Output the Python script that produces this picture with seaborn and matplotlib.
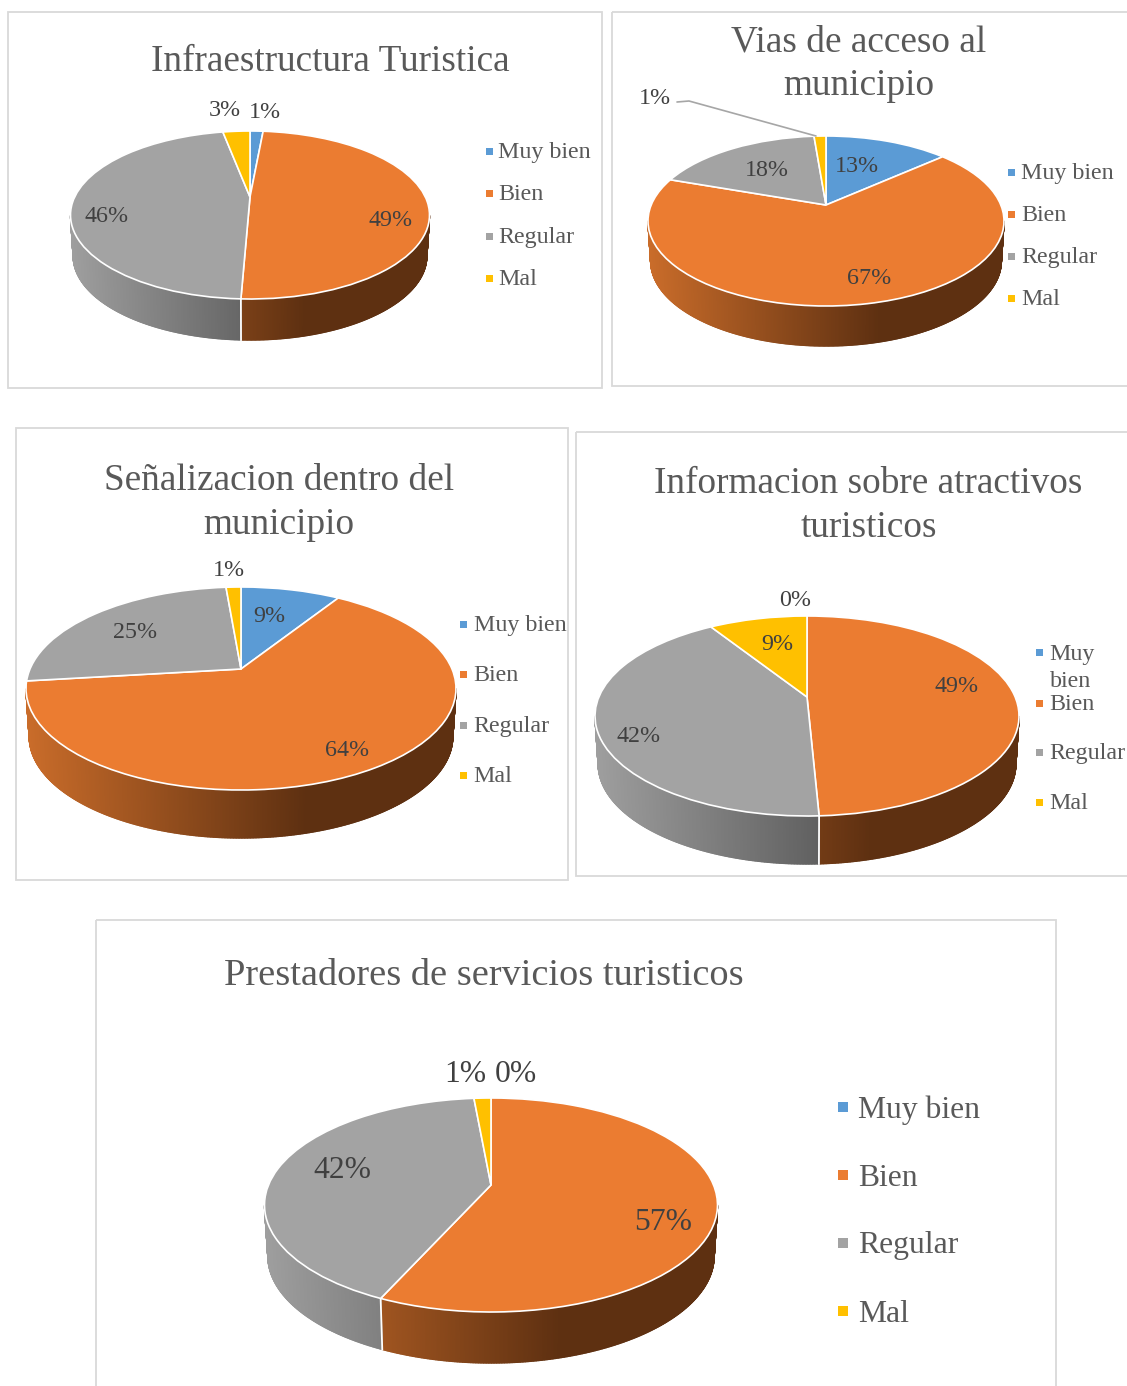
import numpy as np
import matplotlib
matplotlib.use("Agg")
import matplotlib.pyplot as plt
from matplotlib.collections import PolyCollection
from matplotlib.patches import Rectangle
from matplotlib.transforms import Transform
from matplotlib.colors import to_rgb
import seaborn as sns

# ---------- data ----------
categories = ["Muy bien", "Bien", "Regular", "Mal"]
infraestructura = [1.45, 49.2, 46.35, 3.0]
vias = [13.5, 66.8, 18.4, 1.3]
senalizacion = [9.0, 64.1, 25.55, 1.35]
informacion = [0.0, 49.25, 41.75, 9.0]
prestadores = [0.0, 56.75, 41.8, 1.45]

labels_infra = ["1%", "49%", "46%", "3%"]
labels_vias = ["13%", "67%", "18%", "1%"]
labels_senal = ["9%", "64%", "25%", "1%"]
labels_info = ["0%", "49%", "42%", "9%"]
labels_prest = ["0%", "57%", "42%", "1%"]

palette_hex = ["#5B9BD5", "#EB7C31", "#A3A3A3", "#FFC000"]
wall_light = ["#5B9BD5", "#C96C2A", "#9E9E9E", "#D9A300"]
wall_dark = ["#2F5A80", "#5E3011", "#525252", "#7F6000"]

# ---------- layout (pixels) ----------
charts = [
    dict(values=infraestructura, texts=labels_infra, title="Infraestructura Turistica",
         title_xy=(330, 62), title_fs=26.85, apex=(250, 197), xext=(71, 430), top=131, bottom=299, depth=41,
         label_xy=[(265, 112), (391, 220), (107, 216), (225, 110)], frame=(8, 12, 602, 388),
         leg_x=(489, 498.5), leg_y=[151, 193, 236, 278], fs=17.3, ms=7, dy=1.5),
    dict(values=vias, texts=labels_vias, title="Vias de acceso al\nmunicipio",
         title_xy=(859, 64), title_fs=26.85, apex=(826, 205), xext=(648, 1004), top=136, bottom=306, depth=40,
         label_xy=[(857, 167), (869, 278), (767, 170), (655, 98)], frame=(612, 12, 1140, 386),
         leg_x=(1011, 1021), leg_y=[172, 214, 256, 298], fs=17.3, ms=7, dy=1.5),
    dict(values=senalizacion, texts=labels_senal, title="Señalizacion dentro del\nmunicipio",
         title_xy=(279, 503), title_fs=26.85, apex=(241, 669), xext=(26, 456), top=587, bottom=790, depth=48,
         label_xy=[(269, 616), (347, 750), (135, 632), (229, 570)], frame=(16, 428, 568, 880),
         leg_x=(463, 473.5), leg_y=[624, 674, 725, 775], fs=17.3, ms=7, dy=1.5),
    dict(values=informacion, texts=labels_info, title="Informacion sobre atractivos\nturisticos",
         title_xy=(868.5, 506), title_fs=26.85, apex=(807, 697), xext=(595, 1019), top=616, bottom=816, depth=48,
         label_xy=[(795, 600), (957, 686), (639, 736), (777, 644)], frame=(576, 432, 1140, 876),
         leg_x=(1039, 1049.5), leg_y=[652, 703, 752, 802], fs=17.3, ms=7, dy=1.5),
    dict(values=prestadores, texts=labels_prest, title="Prestadores de servicios turisticos",
         title_xy=(484, 976), title_fs=27.6, apex=(491, 1185), xext=(265, 718), top=1098, bottom=1312, depth=51,
         label_xy=[(516, 1075), (663, 1222), (342, 1170), (465, 1074)], frame=(96, 920, 1056, 1400),
         leg_x=(843, 858.5), leg_y=[1107, 1175, 1243, 1311], fs=22.8, ms=10, dy=3),
]

TITLE_C = "#595959"
LABEL_C = "#404040"
LEGEND_C = "#595959"
FRAME_C = "#D9D9D9"


class TiltedDisc(Transform):
    """Perspective view of the unit pie: apex above the middle of the ellipse."""
    input_dims = 2
    output_dims = 2

    def __init__(self, apex, xext, top, bottom):
        super().__init__()
        a = apex[1] - top
        b = bottom - apex[1]
        self.k = (b - a) / (a + b)
        self.A = 2 * a * b / (a + b)
        self.B = (xext[1] - xext[0]) / 2 * np.sqrt(1 - self.k ** 2)
        self.apex = apex

    def transform_non_affine(self, values):
        values = np.asarray(values, dtype=float)
        w = 1 + self.k * values[:, 1]
        return np.column_stack([self.apex[0] + self.B * values[:, 0] / w,
                                self.apex[1] - self.A * values[:, 1] / w])


sns.set_theme(style="white")
plt.rcParams["font.family"] = ["Liberation Serif", "DejaVu Serif"]
palette = sns.color_palette(palette_hex)

fig = plt.figure(figsize=(11.27, 13.86), dpi=100, facecolor="white")
ax = fig.add_axes([0, 0, 1, 1])
WALL_TAPER = 0.985


def draw_wall(chart, disc):
    vals = np.asarray(chart["values"], dtype=float)
    edges = np.cumsum(np.r_[0, vals]) / vals.sum() * 2 * np.pi
    left, right = chart["xext"]
    d = chart["depth"]
    cx = chart["apex"][0]
    mid = (chart["top"] + chart["bottom"]) / 2

    def lower(pts):
        out = pts.copy()
        out[:, 0] = cx + (pts[:, 0] - cx) * WALL_TAPER
        out[:, 1] += d
        return out

    for i in range(len(vals)):
        if vals[i] <= 0:
            continue
        n = max(int((edges[i + 1] - edges[i]) / 0.006), 2)
        th = np.linspace(edges[i], edges[i + 1], n + 1)
        rim = disc.transform_non_affine(np.column_stack([np.sin(th), np.cos(th)]))
        low = lower(rim)
        keep = [j for j in range(n) if rim[j, 1] >= mid and rim[j + 1, 1] >= mid]
        if not keep:
            continue
        quads = [[rim[j], rim[j + 1], low[j + 1], low[j]] for j in keep]
        t = np.clip(((rim[keep, 0] + rim[np.array(keep) + 1, 0]) / 2 - left) / (right - left) / 0.65, 0, 1)[:, None]
        cols = (1 - t) * np.array(to_rgb(wall_light[i])) + t * np.array(to_rgb(wall_dark[i]))
        ax.add_collection(PolyCollection(quads, facecolors=cols, edgecolors=cols,
                                         linewidths=1.0, zorder=2))
    # white seams where a slice boundary reaches the front of the pie
    for e in edges[:-1]:
        p = disc.transform_non_affine(np.array([[np.sin(e), np.cos(e)]]))
        if p[0, 1] >= mid:
            q = lower(p)
            ax.plot([p[0, 0], q[0, 0]], [p[0, 1], q[0, 1] + 1], color="white", lw=1.3, zorder=3,
                    solid_capstyle="butt")


for chart in charts:
    x0, y0, x1, y1 = chart["frame"]
    ax.add_patch(Rectangle((x0, y0), x1 - x0, y1 - y0, fill=False, ec=FRAME_C, lw=1.3, zorder=1))

    disc = TiltedDisc(chart["apex"], chart["xext"], chart["top"], chart["bottom"])
    draw_wall(chart, disc)

    wedges, _ = ax.pie(chart["values"], colors=palette, startangle=90, counterclock=False,
                       radius=1, labeldistance=None,
                       wedgeprops=dict(edgecolor="white", linewidth=1.2, zorder=4))
    for w in wedges:
        w.set_transform(disc + ax.transData)
        w.set_zorder(4)

    ax.text(*chart["title_xy"], chart["title"], ha="center", va="center", fontsize=chart["title_fs"],
            color=TITLE_C, linespacing=1.35, zorder=6)
    for txt, xy in zip(chart["texts"], chart["label_xy"]):
        ax.text(*xy, txt, ha="center", va="center", fontsize=chart["fs"], color=LABEL_C, zorder=6)

    mx, tx = chart["leg_x"]
    for name, color, y in zip(categories, palette, chart["leg_y"]):
        ax.scatter([mx], [y], marker="s", s=(chart["ms"] * 0.72) ** 2, color=color,
                   linewidths=0, zorder=6)
        if chart["values"] is informacion and name == "Muy bien":
            ax.text(tx, y + 16, "Muy\nbien", ha="left", va="center", fontsize=chart["fs"],
                    color=LEGEND_C, linespacing=1.42, zorder=6)
        else:
            ax.text(tx, y + chart["dy"], name, ha="left", va="center", fontsize=chart["fs"],
                    color=LEGEND_C, zorder=6)

# leader line of the smallest slice in the access-road chart
ax.plot([677, 689, 816], [102, 101, 136], color="#A6A6A6", lw=1.2, zorder=5)

ax.set_aspect("auto")
ax.set_xlim(0, 1127)
ax.set_ylim(1386, 0)
ax.set_axis_off()
fig.savefig("out.png", dpi=100, facecolor="white")
